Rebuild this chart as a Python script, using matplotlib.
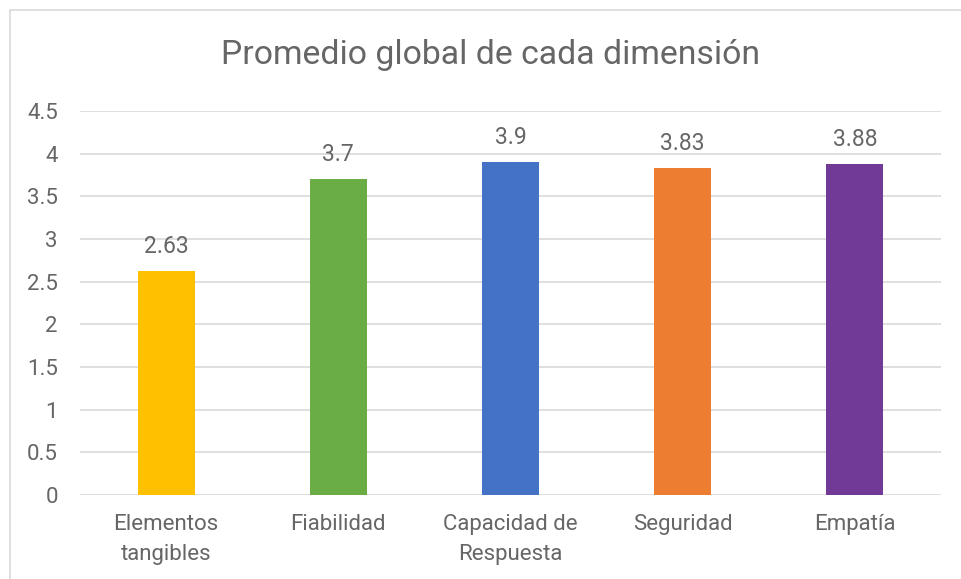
import matplotlib.pyplot as plt
from matplotlib.patches import Rectangle

categorias = ["Elementos\ntangibles", "Fiabilidad", "Capacidad de\nRespuesta", "Seguridad", "Empatía"]
promedios = [2.63, 3.7, 3.9, 3.83, 3.88]
etiquetas = ["2.63", "3.7", "3.9", "3.83", "3.88"]
colores = ["#FFC000", "#6AAD45", "#4472C4", "#ED7D31", "#713A97"]

plt.rcParams['font.family'] = ['Roboto', 'DejaVu Sans']
gris = "#666666"

fig = plt.figure(figsize=(9.61, 5.79), dpi=100)
ax = fig.add_axes([80/961, 84/579, 861/961, 384/579])

x = range(len(categorias))
ax.bar(x, promedios, width=0.33, color=colores, zorder=3)
for i, v in enumerate(promedios):
    ax.text(i, v + 0.15, etiquetas[i], ha="center", va="bottom", fontsize=16.5, color=gris)

ax.set_xlim(-0.5, len(categorias) - 0.5)
ax.set_ylim(0, 4.5)
ax.set_yticks([0, 0.5, 1, 1.5, 2, 2.5, 3, 3.5, 4, 4.5])
ax.set_yticklabels(["0", "0.5", "1", "1.5", "2", "2.5", "3", "3.5", "4", "4.5"])
ax.set_xticks(list(x))
ax.set_xticklabels(categorias, linespacing=1.55)
ax.tick_params(axis="both", length=0, labelsize=16, labelcolor=gris)
ax.tick_params(axis="y", pad=16)
ax.tick_params(axis="x", pad=14)
ax.grid(axis="y", color="#D9D9D9", linewidth=1.2, zorder=0)
for s in ax.spines.values():
    s.set_visible(False)

fig.text(490/961, 1 - 55/579, "Promedio global de cada dimensión", ha="center", va="center",
         fontsize=24.3, color=gris)

fig.patches.append(Rectangle((10/961, -0.1), 1.1, 1.1 - 10/579, transform=fig.transFigure,
                             fill=False, edgecolor="#D9D9D9", linewidth=1.2))

fig.savefig("out.png", dpi=100)
